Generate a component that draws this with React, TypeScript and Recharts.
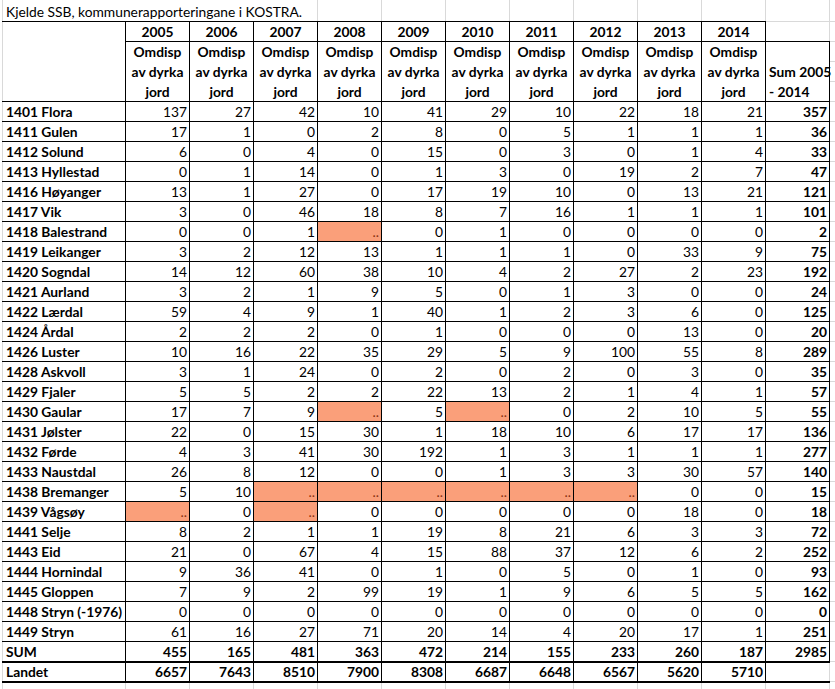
import React from 'react';
import { ScatterChart, Scatter, XAxis, YAxis } from 'recharts';

// ---------- data ----------
const title = 'Kjelde SSB, kommunerapporteringane i KOSTRA.';
const years = ['2005', '2006', '2007', '2008', '2009', '2010', '2011', '2012', '2013', '2014'];
const headerLines = ['Omdisp', 'av dyrka', 'jord'];
const sumHeaderLines = ['Sum 2005', '- 2014'];
const municipalities = [
  '1401 Flora', '1411 Gulen', '1412 Solund', '1413 Hyllestad', '1416 Høyanger', '1417 Vik',
  '1418 Balestrand', '1419 Leikanger', '1420 Sogndal', '1421 Aurland', '1422 Lærdal', '1424 Årdal',
  '1426 Luster', '1428 Askvoll', '1429 Fjaler', '1430 Gaular', '1431 Jølster', '1432 Førde',
  '1433 Naustdal', '1438 Bremanger', '1439 Vågsøy', '1441 Selje', '1443 Eid', '1444 Hornindal',
  '1445 Gloppen', '1448 Stryn (-1976)', '1449 Stryn',
];
const N = null; // ".." = missing
const omdisp2005 = [137, 17, 6, 0, 13, 3, 0, 3, 14, 3, 59, 2, 10, 3, 5, 17, 22, 4, 26, 5, N, 8, 21, 9, 7, 0, 61];
const omdisp2006 = [27, 1, 0, 1, 1, 0, 0, 2, 12, 2, 4, 2, 16, 1, 5, 7, 0, 3, 8, 10, 0, 2, 0, 36, 9, 0, 16];
const omdisp2007 = [42, 0, 4, 14, 27, 46, 1, 12, 60, 1, 9, 2, 22, 24, 2, 9, 15, 41, 12, N, N, 1, 67, 41, 2, 0, 27];
const omdisp2008 = [10, 2, 0, 0, 0, 18, N, 13, 38, 9, 1, 0, 35, 0, 2, N, 30, 30, 0, N, 0, 1, 4, 0, 99, 0, 71];
const omdisp2009 = [41, 8, 15, 1, 17, 8, 0, 1, 10, 5, 40, 1, 29, 2, 22, 5, 1, 192, 0, N, 0, 19, 15, 1, 19, 0, 20];
const omdisp2010 = [29, 0, 0, 3, 19, 7, 1, 1, 4, 0, 1, 0, 5, 0, 13, N, 18, 1, 1, N, 0, 8, 88, 0, 1, 0, 14];
const omdisp2011 = [10, 5, 3, 0, 10, 16, 0, 1, 2, 1, 2, 0, 9, 2, 2, 0, 10, 3, 3, N, 0, 21, 37, 5, 9, 0, 4];
const omdisp2012 = [22, 1, 0, 19, 0, 1, 0, 0, 27, 3, 3, 0, 100, 0, 1, 2, 6, 1, 3, N, 0, 6, 12, 0, 6, 0, 20];
const omdisp2013 = [18, 1, 1, 2, 13, 1, 0, 33, 2, 0, 6, 13, 55, 3, 4, 10, 17, 1, 30, 0, 18, 3, 6, 1, 5, 0, 17];
const omdisp2014 = [21, 1, 4, 7, 21, 1, 0, 9, 23, 0, 0, 0, 8, 0, 1, 5, 17, 1, 57, 0, 0, 3, 2, 0, 5, 0, 1];
const sum2005to2014 = [357, 36, 33, 47, 121, 101, 2, 75, 192, 24, 125, 20, 289, 35, 57, 55, 136, 277, 140, 15, 18, 72, 252, 93, 162, 0, 251];
const sumRowLabel = 'SUM';
const sumRow = [455, 165, 481, 363, 472, 214, 155, 233, 260, 187];
const sumTotal = 2985;
const landetLabel = 'Landet';
const landetRow = [6657, 7643, 8510, 7900, 8308, 6687, 6648, 6567, 5620, 5710];
const yearSeries = [omdisp2005, omdisp2006, omdisp2007, omdisp2008, omdisp2009, omdisp2010, omdisp2011, omdisp2012, omdisp2013, omdisp2014];

// ---------- layout ----------
const CHART_W = 835;
const CHART_H = 689;
const COL_W = 64;
const ROW_H = 20;
const ORIGIN_X = 126;
const ORIGIN_Y = 22;
const X_DOMAIN: [number, number] = [-ORIGIN_X / COL_W, (CHART_W - ORIGIN_X) / COL_W];
const Y_DOMAIN: [number, number] = [-ORIGIN_Y / ROW_H, (CHART_H - ORIGIN_Y) / ROW_H];
const NAME_X0 = (3 - ORIGIN_X) / COL_W;
const TITLE_Y0 = -ORIGIN_Y / ROW_H;
const FONT = "Lato, 'Open Sans', sans-serif";
const FS = 13.8;
const BLACK = '#000000';
const GRID = '#d9d9d9';
const ORANGE = '#fa9f7a';
const MISSING_TXT = '#8a3010';

type Side = { c: string; w: number } | null;
interface CellSpec {
  x: number; y: number; w: number; h: number;
  lines: string[];
  align: 'left' | 'right' | 'center';
  valign: 'top' | 'bottom';
  base: number;
  bold: boolean;
  fill: string | null;
  color: string;
  top: Side; right: Side; bottom: Side; left: Side;
}

const B1: Side = { c: BLACK, w: 1 };
const B2: Side = { c: BLACK, w: 2 };
const G1: Side = { c: GRID, w: 1 };

function mk(x0: number, x1: number, y0: number, y1: number, o: Partial<CellSpec>): CellSpec {
  return {
    x: (x0 + x1) / 2, y: (y0 + y1) / 2, w: x1 - x0, h: y1 - y0,
    lines: [], align: 'left', valign: 'top', base: 15, bold: false, fill: null, color: BLACK,
    top: null, right: null, bottom: null, left: null,
    ...o,
  };
}

const allBlack = { top: B1, right: B1, bottom: B1, left: B1 };

const cells: CellSpec[] = [];
// Excel gridlines
cells.push(mk(NAME_X0, 3, TITLE_Y0, 0, { left: G1 }));
for (let i = 3; i < 12; i++) cells.push(mk(i, i + 1, TITLE_Y0, 0, { left: G1, right: G1, top: G1 }));
cells.push(mk(10, 11, 0, 1, { top: G1, right: G1 }));
for (let r = 0; r < 34; r++) cells.push(mk(11, 12, r, r + 1, { bottom: G1, top: G1 }));
cells.push(mk(NAME_X0, 0, 33, 34, { left: G1, right: G1 }));
for (let i = 0; i < 12; i++) cells.push(mk(i, i + 1, 33, 34, { left: G1, right: G1 }));
// title
cells.push(mk(NAME_X0, 10, TITLE_Y0, 0, { lines: [title], base: 17 }));
// header
cells.push(mk(NAME_X0, 0, 0, 4, { top: B1, right: B1, bottom: B1, left: G1 }));
years.forEach((yr, i) => {
  cells.push(mk(i, i + 1, 0, 1, { ...allBlack, lines: [yr], align: 'center', bold: true }));
  cells.push(mk(i, i + 1, 1, 4, { ...allBlack, lines: headerLines, align: 'center', bold: true }));
});
cells.push(mk(10, 11, 1, 4, { ...allBlack, lines: sumHeaderLines, align: 'left', valign: 'bottom', bold: true }));
// body
municipalities.forEach((name, k) => {
  const r = 4 + k;
  cells.push(mk(NAME_X0, 0, r, r + 1, { top: B1, right: B1, bottom: B1, left: G1, lines: [name], bold: true }));
  yearSeries.forEach((series, i) => {
    const v = series[k];
    cells.push(mk(i, i + 1, r, r + 1, {
      ...allBlack,
      lines: [v === null ? '..' : String(v)],
      align: 'right',
      fill: v === null ? ORANGE : null,
      color: v === null ? MISSING_TXT : BLACK,
    }));
  });
  cells.push(mk(10, 11, r, r + 1, { ...allBlack, lines: [String(sum2005to2014[k])], align: 'right', bold: true }));
});
// SUM row
cells.push(mk(NAME_X0, 0, 31, 32, { top: B1, right: B1, bottom: B1, left: G1, lines: [sumRowLabel], bold: true }));
sumRow.forEach((v, i) => cells.push(mk(i, i + 1, 31, 32, { ...allBlack, lines: [String(v)], align: 'right', bold: true })));
cells.push(mk(10, 11, 31, 32, { ...allBlack, lines: [String(sumTotal)], align: 'right', bold: true }));
// Landet row
cells.push(mk(NAME_X0, 0, 32, 33, { top: B2, right: B1, bottom: B2, left: G1, lines: [landetLabel], bold: true }));
landetRow.forEach((v, i) => cells.push(mk(i, i + 1, 32, 33, { top: B2, right: B1, bottom: B2, left: B1, lines: [String(v)], align: 'right', bold: true })));
cells.push(mk(10, 11, 32, 33, { top: B2, bottom: B2, right: G1 }));

// ---------- shapes ----------
function edges(p: any) {
  const c: CellSpec = p.payload ?? p;
  const l = Math.round(p.cx - (c.w * COL_W) / 2);
  const r = Math.round(p.cx + (c.w * COL_W) / 2);
  const t = Math.round(p.cy - (c.h * ROW_H) / 2);
  const b = Math.round(p.cy + (c.h * ROW_H) / 2);
  return { c, l, r, t, b };
}

function FillShape(p: any) {
  const { c, l, r, t, b } = edges(p);
  if (!c.fill) return <g />;
  return <rect x={l} y={t} width={r - l} height={b - t} fill={c.fill} />;
}

function sideLines(c: CellSpec, l: number, r: number, t: number, b: number, grey: boolean) {
  const out: React.ReactElement[] = [];
  const want = (s: Side) => s && ((s.c === GRID) === grey);
  if (want(c.top)) {
    const s = c.top as { c: string; w: number };
    const y = t - 0.5 + (s.w - 1) / 2;
    out.push(<line key="t" x1={l - 1} x2={r} y1={y} y2={y} stroke={s.c} strokeWidth={s.w} />);
  }
  if (want(c.bottom)) {
    const s = c.bottom as { c: string; w: number };
    const y = b - 0.5 + (s.w - 1) / 2;
    out.push(<line key="b" x1={l - 1} x2={r} y1={y} y2={y} stroke={s.c} strokeWidth={s.w} />);
  }
  if (want(c.left)) {
    const s = c.left as { c: string; w: number };
    out.push(<line key="l" x1={l - 0.5} x2={l - 0.5} y1={t - 1} y2={b} stroke={s.c} strokeWidth={s.w} />);
  }
  if (want(c.right)) {
    const s = c.right as { c: string; w: number };
    out.push(<line key="r" x1={r - 0.5} x2={r - 0.5} y1={t - 1} y2={b} stroke={s.c} strokeWidth={s.w} />);
  }
  return out;
}

function GridShape(p: any) {
  const { c, l, r, t, b } = edges(p);
  return <g>{sideLines(c, l, r, t, b, true)}</g>;
}

function BorderShape(p: any) {
  const { c, l, r, t, b } = edges(p);
  return <g>{sideLines(c, l, r, t, b, false)}</g>;
}

function TextShape(p: any) {
  const { c, l, r, t, b } = edges(p);
  if (!c.lines.length) return <g />;
  const n = c.lines.length;
  const x = c.align === 'left' ? l + 3 : c.align === 'right' ? r - 3 : (l + r) / 2 - 0.5;
  const anchor = c.align === 'left' ? 'start' : c.align === 'right' ? 'end' : 'middle';
  return (
    <g>
      {c.lines.map((s, i) => {
        const y = c.valign === 'top' ? t + c.base + ROW_H * i : b - 5 - ROW_H * (n - 1 - i);
        return (
          <text key={i} x={x} y={y} textAnchor={anchor} fontFamily={FONT} fontSize={FS}
            fontWeight={c.bold ? 700 : 400} fill={c.color}>
            {s}
          </text>
        );
      })}
    </g>
  );
}

export default function App() {
  return (
    <div style={{ position: 'fixed', left: 0, top: 0, width: CHART_W, height: CHART_H, background: '#fff' }}>
      <ScatterChart width={CHART_W} height={CHART_H} margin={{ top: 0, right: 0, bottom: 0, left: 0 }}>
        <XAxis type="number" dataKey="x" domain={X_DOMAIN} hide allowDataOverflow />
        <YAxis type="number" dataKey="y" domain={Y_DOMAIN} reversed hide allowDataOverflow />
        <Scatter data={cells} shape={GridShape} isAnimationActive={false} />
        <Scatter data={cells} shape={FillShape} isAnimationActive={false} />
        <Scatter data={cells} shape={BorderShape} isAnimationActive={false} />
        <Scatter data={cells} shape={TextShape} isAnimationActive={false} />
      </ScatterChart>
    </div>
  );
}
